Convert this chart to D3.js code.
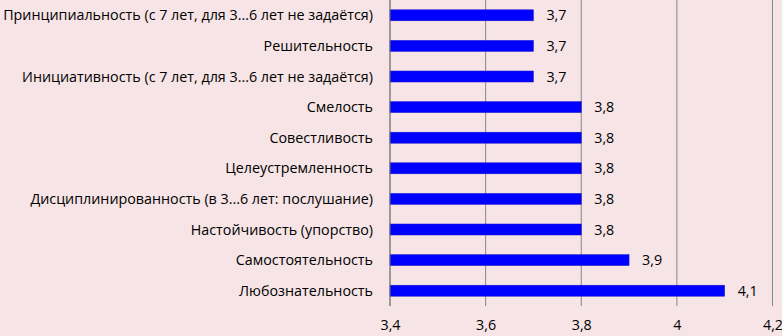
<!DOCTYPE html>
<html>
<head>
<meta charset="utf-8">
<script src="https://cdn.jsdelivr.net/npm/d3@7"></script>
<style>
  body { margin: 0; background: #f6e4e6; }
  text { font-family: "Open Sans", sans-serif; fill: #000; }
</style>
</head>
<body>
<div id="chart"></div>
<script>
// data
const categories = [
  "Принципиальность (с 7 лет, для 3...6 лет не задаётся)",
  "Решительность",
  "Инициативность (с 7 лет, для 3...6 лет не задаётся)",
  "Смелость",
  "Совестливость",
  "Целеустремленность",
  "Дисциплинированность (в 3...6 лет: послушание)",
  "Настойчивость (упорство)",
  "Самостоятельность",
  "Любознательность"
];
const values = [3.7, 3.7, 3.7, 3.8, 3.8, 3.8, 3.8, 3.8, 3.9, 4.1];
const tickValues = [3.4, 3.6, 3.8, 4.0, 4.2];

const width = 782, height = 336;
const margin = { top: 0, right: 10, bottom: 30, left: 390 };
const fontSize = "14.3px";

const svg = d3.select("#chart").append("svg")
  .attr("width", width)
  .attr("height", height);

svg.append("rect").attr("width", width).attr("height", height).attr("fill", "#f6e4e6");

const x = d3.scaleLinear()
  .domain([3.4, 4.2])
  .range([margin.left, 772.5]);

const y = d3.scaleBand()
  .domain(categories)
  .range([0, 306])
  .paddingInner(0.64)
  .paddingOuter(0.32);

const fmt = d => String(+d.toFixed(1)).replace(".", ",");

// gridlines
svg.selectAll("line.grid")
  .data(tickValues.slice(1))
  .enter().append("line")
  .attr("class", "grid")
  .attr("x1", d => x(d)).attr("x2", d => x(d))
  .attr("y1", 0).attr("y2", 306)
  .attr("stroke", "#878787")
  .attr("stroke-width", 1);

// bars
svg.selectAll("rect.bar")
  .data(values)
  .enter().append("rect")
  .attr("class", "bar")
  .attr("x", x(3.4))
  .attr("y", (d, i) => y(categories[i]))
  .attr("width", d => x(d) - x(3.4))
  .attr("height", y.bandwidth())
  .attr("fill", "#0000ff")
  .attr("stroke", "#1a1acc")
  .attr("stroke-width", 0.5);

// value labels
svg.selectAll("text.val")
  .data(values)
  .enter().append("text")
  .attr("class", "val")
  .attr("x", d => x(d) + 13)
  .attr("y", (d, i) => y(categories[i]) + y.bandwidth() / 2)
  .attr("dy", "0.35em")
  .style("font-size", fontSize)
  .text(fmt);

// category axis line at 3.4
svg.append("line")
  .attr("x1", x(3.4)).attr("x2", x(3.4))
  .attr("y1", 0).attr("y2", 306)
  .attr("stroke", "#666").attr("stroke-width", 1.2);

// category labels
svg.selectAll("text.cat")
  .data(categories)
  .enter().append("text")
  .attr("class", "cat")
  .attr("x", 373)
  .attr("y", d => y(d) + y.bandwidth() / 2)
  .attr("dy", "0.35em")
  .attr("text-anchor", "end")
  .style("font-size", fontSize)
  .text(d => d);

// x axis labels
const xAxis = d3.axisBottom(x).tickValues(tickValues).tickSize(0).tickPadding(0).tickFormat(fmt);
const gx = svg.append("g")
  .attr("transform", "translate(0,320)")
  .call(xAxis);
gx.select(".domain").remove();
gx.selectAll("text").style("font-size", fontSize).attr("font-family", "Open Sans");
</script>
</body>
</html>
